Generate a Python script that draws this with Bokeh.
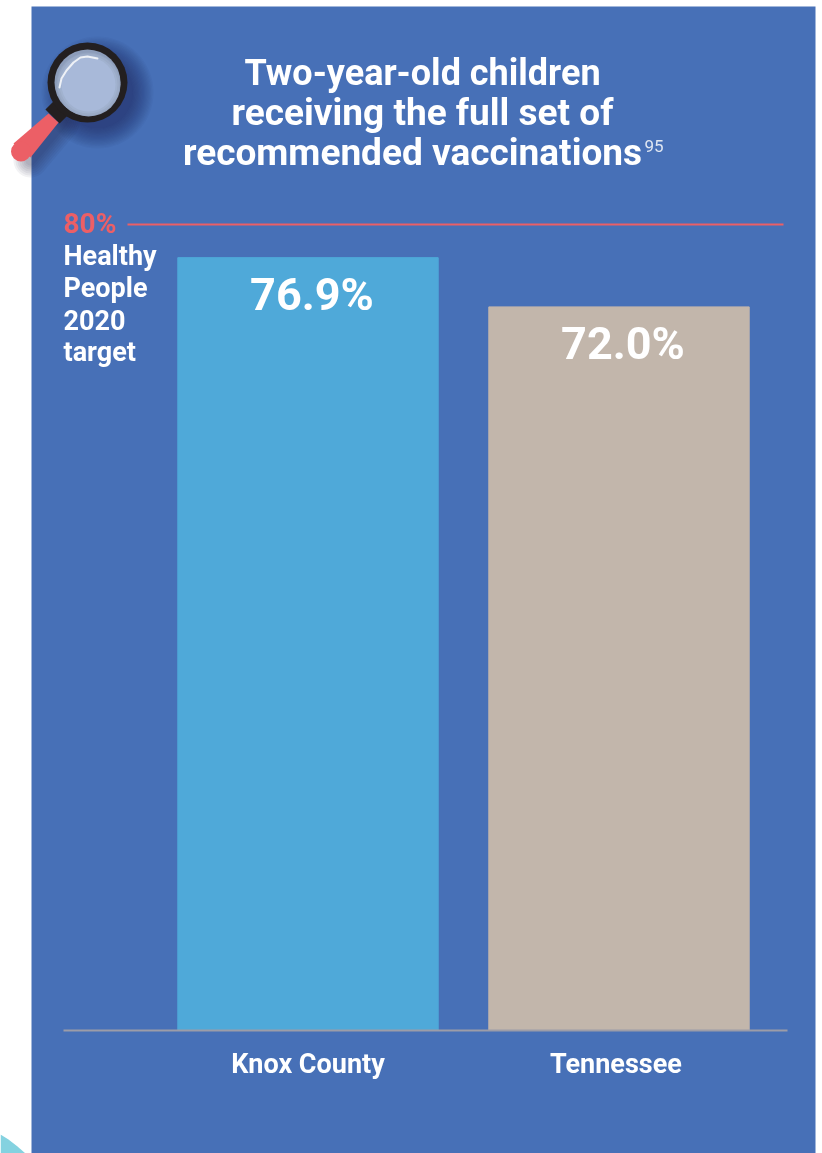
from bokeh.embed import file_html
from bokeh.resources import INLINE
from bokeh.models import Range1d, FixedTicker, LinearScale
from bokeh.plotting import figure
from bokeh.core.properties import value

categories = ["Knox County", "Tennessee"]
percent = [76.9, 72.0]
bar_labels = ["76.9%", "72.0%"]
bar_colors = ["#4fa9d9", "#c2b6ab"]
target_label = "80%"
target_line = 80.2
target_text = ["Healthy", "People", "2020", "target"]
title_lines = ["Two-year-old children", "receiving the full set of", "recommended vaccinations"]
footnote = "95"

FONT = value("Roboto")
PANEL = "#4770b7"
RED = "#ec5f66"
W, H = 822, 1153
xs = list(range(len(categories)))

p = figure(width=W, height=H, output_backend="svg", toolbar_location=None,
           x_range=Range1d(-307.5 / 311, (W - 307.5) / 311),
           y_range=Range1d(-(H - 1030) / 10.05, 1030 / 10.05),
           min_border=0, background_fill_color="white", border_fill_color="white",
           outline_line_color=None)
p.styles = {"position": "fixed", "left": "0px", "top": "0px"}
p.grid.visible = False
p.yaxis.visible = False
p.extra_x_ranges["px"] = Range1d(0, W)
p.extra_y_ranges["px"] = Range1d(H, 0)
p.extra_x_scales = {"px": LinearScale()}
p.extra_y_scales = {"px": LinearScale()}
PX = dict(x_range_name="px", y_range_name="px")

# panel and corner
p.quad(left=[31], right=[815], top=[6], bottom=[H], fill_color=PANEL, line_color=None, **PX)
p.patch([0, 0, 8, 17, 25], [H, 1134, 1139, 1146, H], fill_color="#84d2e0", line_color=None, **PX)

# magnifier shadow
for i in range(18):
    r = 56 - i * 1.2
    p.circle([97], [92], radius=r, fill_color="#1c2a4a", fill_alpha=0.035, line_color=None, **PX)
for i in range(7):
    p.line([62, 30], [122, 160], line_width=34 - 4 * i, line_color="#1c2a4a", line_alpha=0.06,
           line_cap="round", **PX)

# magnifier
p.line([62, 52], [106, 116], line_width=20, line_color="#231f20", **PX)
p.patch([48, 58, 30, 13], [113, 122, 157, 143], fill_color=RED, line_color=None, **PX)
p.circle([20.5], [151], radius=10, fill_color=RED, line_color=None, **PX)
p.circle([87], [82], radius=40, fill_color="#231f20", line_color=None, **PX)
p.circle([87], [82], radius=33, fill_color="#8d9dba", line_color=None, **PX)
for r, c in [(32, "#94a4c0"), (31, "#9babc7"), (29, "#a1b2cf"), (27, "#a8b9d9")]:
    p.circle([88], [84], radius=r, fill_color=c, line_color=None, **PX)
p.line([59, 61, 66, 73, 80, 87, 97], [87, 78, 70, 62, 57, 56, 58], line_width=2, line_color="#eef1f6",
       line_cap="round", line_join="round", **PX)

# bars
p.vbar(x=xs, top=percent, width=260.4 / 311, bottom=0, color=bar_colors)
p.text(x=xs, y=percent, text=bar_labels, text_color="white", text_font=FONT, text_font_style="bold",
       text_font_size="45px", text_align="center", text_baseline="middle", x_offset=4, y_offset=37)

# baseline and axis
p.segment(x0=[63], x1=[787], y0=[1030], y1=[1030], line_color="#9c9ca8", line_width=2, **PX)
tick_pos = [0.0, 0.99]
p.xaxis.fixed_location = 0
p.xaxis.ticker = FixedTicker(ticks=tick_pos)
p.xaxis.major_label_overrides = {t: c for t, c in zip(tick_pos, categories)}
p.xaxis.axis_line_color = None
p.xaxis.major_tick_line_color = None
p.xaxis.minor_tick_line_color = None
p.xaxis.major_label_text_color = "white"
p.xaxis.major_label_text_font = "Roboto"
p.xaxis.major_label_text_font_style = "bold"
p.xaxis.major_label_text_font_size = "27px"
p.xaxis.major_label_standoff = 11

# target
p.segment(x0=[127], x1=[783], y0=[target_line], y1=[target_line], line_color=RED, line_width=2,
          x_range_name="px")
p.text(x=[63], y=[223], text=[target_label], text_color=RED, text_font=FONT, text_font_style="bold",
       text_font_size="28px", text_baseline="middle", **PX)
p.text(x=[63] * 4, y=[255, 287, 319, 351], text=target_text, text_color="white", text_font=FONT,
       text_font_style="bold", text_font_size="27px", text_baseline="middle", **PX)

# title
p.text(x=[422], y=[72], text=title_lines[:1], text_color="white", text_font=FONT,
       text_font_style="bold", text_font_size="36px", text_align="center", text_baseline="middle", **PX)
p.text(x=[422, 412], y=[112, 152], text=title_lines[1:], text_color="white", text_font=FONT,
       text_font_style="bold", text_font_size="37px", text_align="center", text_baseline="middle", **PX)
p.text(x=[644], y=[145], text=[footnote], text_color="#dfe6f2", text_font=FONT, text_font_size="17px",
       text_baseline="middle", **PX)

open("out.html", "w").write(file_html(p, INLINE))
